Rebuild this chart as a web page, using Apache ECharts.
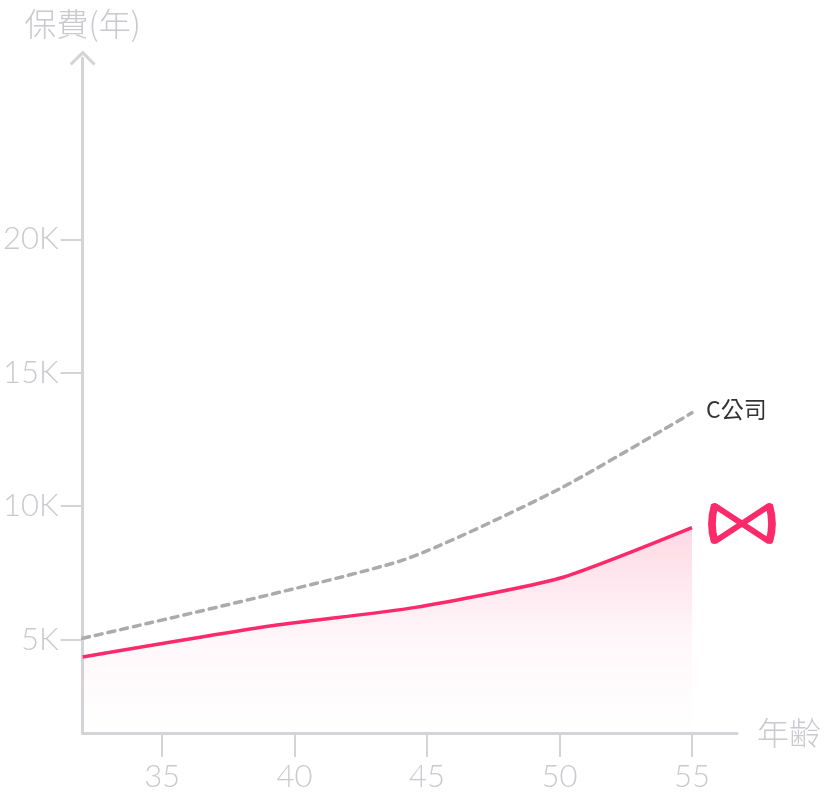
<!DOCTYPE html>
<html>
<head>
<meta charset="utf-8">
<style>html,body{margin:0;padding:0;background:#fff}#c{width:840px;height:796px}</style>
<script src="https://cdn.jsdelivr.net/npm/echarts@6/dist/echarts.min.js"></script>
</head>
<body>
<div id="c"></div>
<script>
const xTicks = [35, 40, 45, 50, 55];
const yTicks = [5000, 10000, 15000, 20000];
const ourAges = [32, 39, 44.5, 50, 55];
const ourPremium = [4350, 5500, 6200, 7300, 9200];
const cAges = [32, 44, 50, 55];
const cPremium = [5050, 7950, 10650, 13500];
const cName = 'C公司';

const labelColor = '#c9c9cf';
const axisColor = '#d3d3d8';
const pink = '#fb2a6b';

const chart = echarts.init(document.getElementById('c'));
chart.setOption({
  animation: false,
  grid: { left: 82, right: 103, top: 58, bottom: 63, containLabel: false },
  xAxis: {
    type: 'value', min: 32, max: 56.7,
    name: '年齢', nameLocation: 'end', nameGap: 20,
    nameTextStyle: { color: labelColor, fontSize: 32, fontFamily: 'Noto Sans CJK TC', fontWeight: 300, verticalAlign: 'middle' },
    axisLine: { show: true, lineStyle: { color: axisColor, width: 3 } },
    axisTick: { show: true, customValues: xTicks, length: 24, lineStyle: { color: axisColor, width: 2 } },
    axisLabel: { customValues: xTicks, margin: 28, color: labelColor, fontSize: 31, fontFamily: 'Lato', fontWeight: 300 },
    splitLine: { show: false }
  },
  yAxis: {
    type: 'value', min: 1500, max: 26800,
    name: '保費(年)', nameLocation: 'end', nameGap: 18,
    nameTextStyle: { color: labelColor, fontSize: 32, fontFamily: 'Noto Sans CJK TC', fontWeight: 300 },
    axisLine: { show: true, symbol: ['none', 'path://M0,12 L12,0 L24,12 L22,14 L12,4 L2,14 Z'], symbolSize: [26, 16], symbolOffset: [0, 0], lineStyle: { color: axisColor, width: 3 } },
    axisTick: { show: true, customValues: yTicks, length: 22, lineStyle: { color: axisColor, width: 2 } },
    axisLabel: { customValues: yTicks, margin: 24, color: labelColor, fontSize: 31, fontFamily: 'Lato', fontWeight: 300,
      formatter: v => (v / 1000) + 'K' },
    splitLine: { show: false }
  },
  series: [
    {
      type: 'line', name: cName,
      data: cAges.map((a, i) => [a, cPremium[i]]),
      smooth: 0.2, showSymbol: false,
      lineStyle: { color: '#ababab', width: 3.5, type: [7, 6], cap: 'round' },
      endLabel: { show: true, formatter: cName, color: '#333', fontSize: 23, fontFamily: 'Noto Sans CJK TC', distance: 14, offset: [0, -4] },
      z: 2
    },
    {
      type: 'line', name: 'ours',
      data: ourAges.map((a, i) => [a, ourPremium[i]]),
      smooth: 0.2, showSymbol: false,
      lineStyle: { color: pink, width: 3.5 },
      areaStyle: {
        color: new echarts.graphic.LinearGradient(0, 0, 0, 1, [
          { offset: 0, color: 'rgba(251,42,107,0.26)' },
          { offset: 0.55, color: 'rgba(251,42,107,0.05)' },
          { offset: 1, color: 'rgba(251,42,107,0)' }
        ])
      },
      markPoint: {
        symbol: 'path://M6,3 Q1,20 6,37 L58,3 Q63,20 58,37 Z',
        symbolSize: [60, 36],
        symbolOffset: [50, -4],
        silent: true,
        label: { show: false },
        itemStyle: { color: 'rgba(0,0,0,0)', borderColor: pink, borderWidth: 6, borderJoin: 'round' },
        data: [{ coord: [ourAges[ourAges.length - 1], ourPremium[ourPremium.length - 1]] }]
      },
      z: 3
    }
  ]
});
</script>
</body>
</html>
